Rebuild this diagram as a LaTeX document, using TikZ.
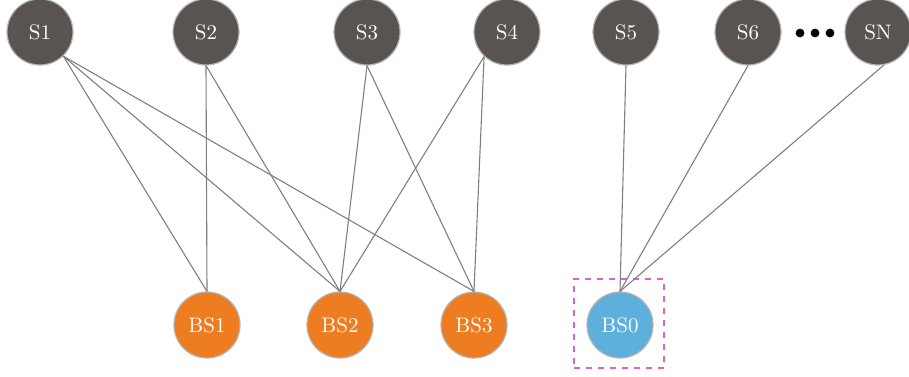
\documentclass[tikz,border=0pt]{standalone}
\usepackage{tikz}

\definecolor{sensorgray}{HTML}{595451}
\definecolor{bsorange}{HTML}{EE7D22}
\definecolor{bsblue}{HTML}{5EB0DC}
\definecolor{rimgray}{HTML}{B4B4B4}
\definecolor{linkgray}{HTML}{7F7F7F}
\definecolor{framepink}{HTML}{D966C6}

\begin{document}
\begin{tikzpicture}[
        x=0.5pt, y=-0.5pt,
        sensor/.style={circle, minimum size=33pt, inner sep=0pt, draw=rimgray, line width=0.6pt, fill=sensorgray, text=white, font=\fontsize{10.5}{12}\selectfont},
        station/.style={sensor, fill=bsorange},
        sink/.style={sensor, fill=bsblue},
        link/.style={draw=linkgray, line width=0.55pt}
    ]
        \useasboundingbox (0,0) rectangle (909,376);

        % Sensors
        \node (S1) [sensor] at (40,32) {S1};
        \node (S2) [sensor] at (206,32) {S2};
        \node (S3) [sensor] at (367,32) {S3};
        \node (S4) [sensor] at (507,32) {S4};
        \node (S5) [sensor] at (626,32) {S5};
        \node (S6) [sensor] at (748,32) {S6};
        \node (SN) [sensor] at (878,32) {SN};
        \node (dots) [inner sep=0pt] at (815,33) {};
        \foreach \dx in {-15,0,15}
            \fill ([xshift=\dx*0.5pt]dots) circle (2.2pt);

        % Base stations
        \node (BS1) [station] at (207,325) {BS1};
        \node (BS2) [station] at (340,325) {BS2};
        \node (BS3) [station] at (474,325) {BS3};
        \node (BS0) [sink] at (620,325) {BS0};
        \node (frame) [draw=framepink, dashed, line width=0.6pt, minimum width=45pt, minimum height=44.5pt, inner sep=0pt] at (619,323.5) {};

        % Links
        \draw[link] (S1.-46) -- (BS1.north);
        \draw[link] (S1.-46) -- (BS2.north);
        \draw[link] (S1.-46) -- (BS3.north);
        \draw[link] (S2.south) -- (BS1.north);
        \draw[link] (S2.south) -- (BS2.north);
        \draw[link] (S3.south) -- (BS2.north);
        \draw[link] (S3.south) -- (BS3.north);
        \draw[link] (S4.-133) -- (BS2.north);
        \draw[link] (S4.-133) -- (BS3.north);
        \draw[link] (S5.south) -- (BS0.north);
        \draw[link] (S6.south) -- (BS0.north);
        \draw[link] (SN.-80) -- (BS0.north);
    \end{tikzpicture}
\end{document}
